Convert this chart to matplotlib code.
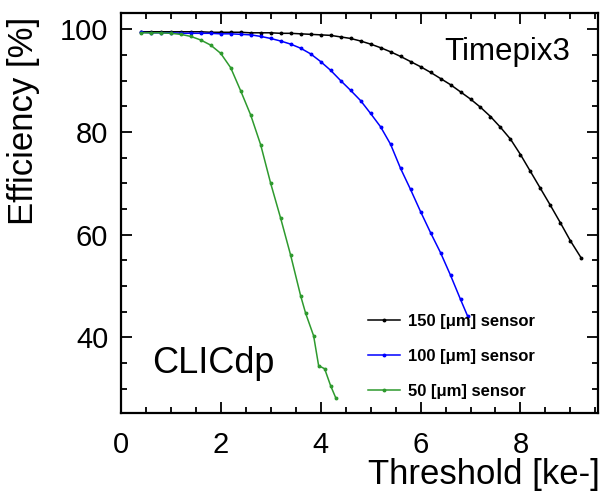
import matplotlib
matplotlib.use("Agg")
import matplotlib.pyplot as plt
from matplotlib.ticker import MultipleLocator

plt.rcParams['font.family'] = ['Liberation Sans', 'DejaVu Sans']

# threshold scans [ke-] and efficiency [%] per sensor thickness
thr_150 = [0.4, 0.6, 0.8, 1.0, 1.2, 1.4, 1.6, 1.8, 2.0, 2.2, 2.4, 2.6, 2.8, 3.0,
           3.2, 3.4, 3.6, 3.8, 4.0, 4.2, 4.4, 4.6, 4.8, 5.0, 5.2, 5.4, 5.6, 5.8,
           6.0, 6.2, 6.4, 6.6, 6.8, 7.0, 7.2, 7.4, 7.6, 7.8, 8.0, 8.2, 8.4, 8.6,
           8.8, 9.0, 9.22]
eff_150 = [99.5, 99.5, 99.5, 99.5, 99.5, 99.5, 99.5, 99.4, 99.4, 99.4, 99.4, 99.3,
           99.3, 99.3, 99.2, 99.2, 99.1, 99.0, 98.9, 98.8, 98.5, 98.2, 97.7, 97.1,
           96.4, 95.6, 94.7, 93.7, 92.7, 91.6, 90.4, 89.2, 87.8, 86.4, 84.8, 83.0,
           80.9, 78.6, 75.6, 72.3, 69.0, 65.7, 62.3, 58.8, 55.4]

thr_100 = [0.4, 0.6, 0.8, 1.0, 1.2, 1.4, 1.6, 1.8, 2.0, 2.2, 2.4, 2.6, 2.8, 3.0,
           3.2, 3.4, 3.6, 3.8, 4.0, 4.2, 4.4, 4.6, 4.8, 5.0, 5.2, 5.4, 5.6, 5.8,
           6.0, 6.2, 6.4, 6.6, 6.8, 6.94]
eff_100 = [99.4, 99.3, 99.3, 99.3, 99.2, 99.2, 99.2, 99.2, 99.1, 99.1, 99.0, 98.9,
           98.6, 98.2, 97.7, 97.1, 96.3, 95.2, 93.7, 92.0, 90.0, 88.1, 86.1, 83.6,
           81.0, 77.6, 72.9, 68.8, 64.5, 60.4, 56.5, 52.1, 47.4, 44.2]

thr_50 = [0.4, 0.6, 0.8, 1.0, 1.2, 1.4, 1.6, 1.8, 2.0, 2.2, 2.4, 2.6, 2.8, 3.0,
          3.2, 3.4, 3.6, 3.7, 3.86, 3.96, 4.08, 4.2, 4.3]
eff_50 = [99.3, 99.3, 99.3, 99.2, 99.0, 98.6, 97.9, 96.9, 95.3, 92.5, 88.0, 83.3,
          77.5, 70.0, 63.2, 56.0, 48.1, 44.7, 40.3, 34.5, 33.9, 30.6, 28.3]

labels = ['150 [μm] sensor', '100 [μm] sensor', '50 [μm] sensor']
colors = ['black', '#0000ff', '#2e9a2e']

fig = plt.figure(figsize=(6.07, 4.91), dpi=100)
ax = fig.add_axes([0.199, 0.159, 0.786, 0.815])

for x, y, lab, c in zip([thr_150, thr_100, thr_50], [eff_150, eff_100, eff_50],
                        labels, colors):
    ax.plot(x, y, '-', color=c, lw=1.1, marker='o', ms=1.8, label=lab)

ax.set_xlim(0, 9.55)
ax.set_ylim(25.3, 103.2)
ax.xaxis.set_major_locator(MultipleLocator(2))
ax.xaxis.set_minor_locator(MultipleLocator(0.5))
ax.yaxis.set_major_locator(MultipleLocator(20))
ax.yaxis.set_minor_locator(MultipleLocator(5))

ax.tick_params(which='both', direction='in', top=True, right=True, width=1.3)
ax.tick_params(which='major', length=8)
ax.tick_params(which='minor', length=4.5)
ax.tick_params(axis='x', which='major', labelsize=21, pad=13)
ax.tick_params(axis='y', which='major', labelsize=21, pad=9)
for s in ax.spines.values():
    s.set_linewidth(1.6)

ax.set_xlabel('Threshold [ke-]', fontsize=25, loc='right')
ax.set_ylabel('Efficiency [%]', fontsize=25, loc='top')
ax.xaxis.set_label_coords(1.004, -0.113)
ax.yaxis.set_label_coords(-0.17, 0.99)

ax.text(0.677, 0.883, 'Timepix3', transform=ax.transAxes, fontsize=22.5,
        ha='left', va='baseline')
ax.text(0.065, 0.1, 'CLICdp', transform=ax.transAxes, fontsize=26,
        ha='left', va='baseline')

ax.legend(loc='upper left', bbox_to_anchor=(0.518, 0.248), frameon=False,
          prop={'weight': 'bold', 'size': 12}, handlelength=1.9,
          handletextpad=0.5, labelspacing=1.2, borderpad=0, borderaxespad=0,
          numpoints=1)

fig.savefig('out.png', dpi=100)
